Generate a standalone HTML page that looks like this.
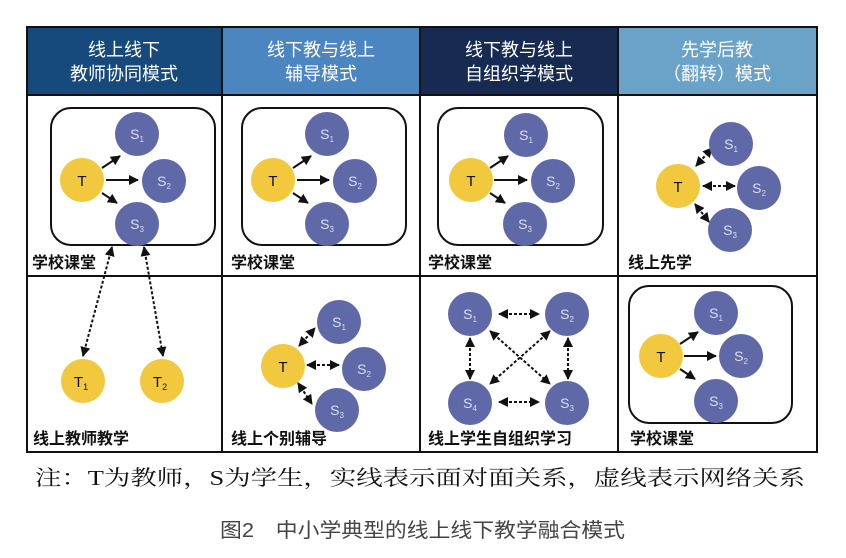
<!DOCTYPE html>
<html><head><meta charset="utf-8"><style>
html,body{margin:0;padding:0;background:#fff;width:846px;height:558px;overflow:hidden}
text{font-family:"Liberation Sans","Noto Sans CJK SC",sans-serif}
</style></head><body>
<svg width="846" height="558" viewBox="0 0 846 558" xmlns="http://www.w3.org/2000/svg">
<defs>
<marker id="a" viewBox="0 0 10 10" refX="9" refY="5" markerWidth="5" markerHeight="5" orient="auto-start-reverse"><path d="M0,0L10,5L0,10z" fill="#111"/></marker>
</defs>
<rect x="27" y="27" width="195" height="68" fill="#174a7c"/>
<rect x="222" y="27" width="198" height="68" fill="#4c86c0"/>
<rect x="420" y="27" width="198" height="68" fill="#172b52"/>
<rect x="618" y="27" width="199" height="68" fill="#6aa2c8"/>
<g fill="#fff" font-size="18" text-anchor="middle">
<text x="124" y="56">线上线下</text><text x="124" y="80">教师协同模式</text>
<text x="321" y="56">线下教与线上</text><text x="321" y="80">辅导模式</text>
<text x="519" y="56">线下教与线上</text><text x="519" y="80">自组织学模式</text>
<text x="717" y="56">先学后教</text><text x="717" y="80">（翻转）模式</text>
</g>
<g stroke="#111" stroke-width="2" fill="none">
<rect x="27" y="27" width="790" height="425"/>
<line x1="27" y1="95" x2="817" y2="95"/>
<line x1="27" y1="276" x2="817" y2="276"/>
<line x1="222" y1="27" x2="222" y2="452"/>
<line x1="420" y1="27" x2="420" y2="452"/>
<line x1="618" y1="27" x2="618" y2="452"/>
<rect x="51" y="108" width="164" height="137" rx="20"/>
<rect x="242" y="108" width="164" height="137" rx="20"/>
<rect x="438" y="108" width="165" height="137" rx="20"/>
<rect x="629" y="286" width="163" height="137" rx="20"/>
</g>
<g stroke="#111" stroke-width="2" marker-end="url(#a)">
<line x1="102" y1="168" x2="120" y2="156"/><line x1="106" y1="180" x2="138" y2="180"/><line x1="102" y1="193" x2="117" y2="203"/>
<line x1="293" y1="168" x2="311" y2="156"/><line x1="297" y1="180" x2="329" y2="180"/><line x1="293" y1="193" x2="308" y2="203"/>
<line x1="490" y1="168" x2="508" y2="156"/><line x1="494" y1="180" x2="527" y2="180"/><line x1="490" y1="193" x2="505" y2="203"/>
<line x1="680" y1="344" x2="698" y2="332"/><line x1="684" y1="356" x2="716" y2="356"/><line x1="680" y1="369" x2="695" y2="379"/>
</g>
<g stroke="#111" stroke-width="2" stroke-dasharray="3,2" marker-start="url(#a)" marker-end="url(#a)">
<line x1="112" y1="247" x2="83" y2="356"/><line x1="144" y1="247" x2="163" y2="356"/>
<line x1="696" y1="166" x2="712" y2="148"/><line x1="703" y1="186" x2="735" y2="186"/><line x1="695" y1="204" x2="709" y2="222"/>
<line x1="299" y1="346" x2="315" y2="328"/><line x1="307" y1="365" x2="339" y2="365"/><line x1="298" y1="383" x2="312" y2="404"/>
<line x1="499" y1="314" x2="539" y2="314"/><line x1="499" y1="402" x2="539" y2="402"/>
<line x1="470" y1="338" x2="470" y2="379"/><line x1="568" y1="338" x2="568" y2="379"/>
<line x1="490" y1="331" x2="550" y2="384"/><line x1="550" y1="331" x2="490" y2="384"/>
</g>
<g fill="#f2c83e">
<circle cx="82" cy="180" r="22"/><circle cx="273" cy="180" r="22"/><circle cx="471" cy="180" r="22"/>
<circle cx="678" cy="186" r="22"/><circle cx="83" cy="381" r="22"/><circle cx="162" cy="381" r="22"/>
<circle cx="283" cy="366" r="22"/><circle cx="661" cy="356" r="22"/>
</g>
<g fill="#6069a8">
<circle cx="137" cy="134" r="22"/><circle cx="164" cy="181" r="22"/><circle cx="137" cy="224" r="22"/>
<circle cx="327" cy="134" r="22"/><circle cx="355" cy="181" r="22"/><circle cx="327" cy="224" r="22"/>
<circle cx="526" cy="135" r="22"/><circle cx="553" cy="181" r="22"/><circle cx="525" cy="224" r="22"/>
<circle cx="731" cy="144" r="22"/><circle cx="759" cy="188" r="22"/><circle cx="730" cy="230" r="22"/>
<circle cx="339" cy="322" r="22"/><circle cx="364" cy="369" r="22"/><circle cx="337" cy="410" r="22"/>
<circle cx="470" cy="314" r="22"/><circle cx="567" cy="314" r="22"/><circle cx="470" cy="403" r="22"/><circle cx="567" cy="403" r="22"/>
<circle cx="716" cy="313" r="22"/><circle cx="741" cy="356" r="22"/><circle cx="716" cy="401" r="22"/>
</g>
<g font-size="15" text-anchor="middle" fill="#111">
<text x="82" y="186">T</text><text x="273" y="186">T</text><text x="471" y="186">T</text><text x="678" y="192">T</text>
<text x="283" y="372">T</text><text x="661" y="362">T</text>
<text x="81" y="387">T<tspan font-size="9" dy="3">1</tspan></text><text x="160" y="387">T<tspan font-size="9" dy="3">2</tspan></text>
</g>
<g font-size="14" text-anchor="middle" fill="#dde">
<text x="137" y="139">S<tspan font-size="8" dy="3">1</tspan></text><text x="164" y="186">S<tspan font-size="8" dy="3">2</tspan></text><text x="137" y="229">S<tspan font-size="8" dy="3">3</tspan></text>
<text x="327" y="139">S<tspan font-size="8" dy="3">1</tspan></text><text x="355" y="186">S<tspan font-size="8" dy="3">2</tspan></text><text x="327" y="229">S<tspan font-size="8" dy="3">3</tspan></text>
<text x="526" y="140">S<tspan font-size="8" dy="3">1</tspan></text><text x="553" y="186">S<tspan font-size="8" dy="3">2</tspan></text><text x="525" y="229">S<tspan font-size="8" dy="3">3</tspan></text>
<text x="731" y="149">S<tspan font-size="8" dy="3">1</tspan></text><text x="759" y="193">S<tspan font-size="8" dy="3">2</tspan></text><text x="730" y="235">S<tspan font-size="8" dy="3">3</tspan></text>
<text x="339" y="327">S<tspan font-size="8" dy="3">1</tspan></text><text x="364" y="374">S<tspan font-size="8" dy="3">2</tspan></text><text x="337" y="415">S<tspan font-size="8" dy="3">3</tspan></text>
<text x="470" y="319">S<tspan font-size="8" dy="3">1</tspan></text><text x="567" y="319">S<tspan font-size="8" dy="3">2</tspan></text><text x="470" y="408">S<tspan font-size="8" dy="3">4</tspan></text><text x="567" y="408">S<tspan font-size="8" dy="3">3</tspan></text>
<text x="716" y="318">S<tspan font-size="8" dy="3">1</tspan></text><text x="741" y="361">S<tspan font-size="8" dy="3">2</tspan></text><text x="716" y="406">S<tspan font-size="8" dy="3">3</tspan></text>
</g>
<g font-size="16" fill="#111" font-weight="bold">
<text x="32" y="268">学校课堂</text><text x="231" y="268">学校课堂</text><text x="428" y="268">学校课堂</text><text x="628" y="268">线上先学</text>
<text x="33" y="444">线上教师教学</text><text x="231" y="444">线上个别辅导</text><text x="428" y="444">线上学生自组织学习</text><text x="630" y="444">学校课堂</text>
</g>
<text x="35" y="485" font-size="21" fill="#111" textLength="770" lengthAdjust="spacingAndGlyphs" style='font-family:"Liberation Serif","Noto Serif CJK SC",serif'>注：T为教师，S为学生，实线表示面对面关系，虚线表示网络关系</text>
<text x="220" y="537" font-size="20" fill="#444" textLength="405" lengthAdjust="spacingAndGlyphs">图2　中小学典型的线上线下教学融合模式</text>
</svg>
</body></html>
